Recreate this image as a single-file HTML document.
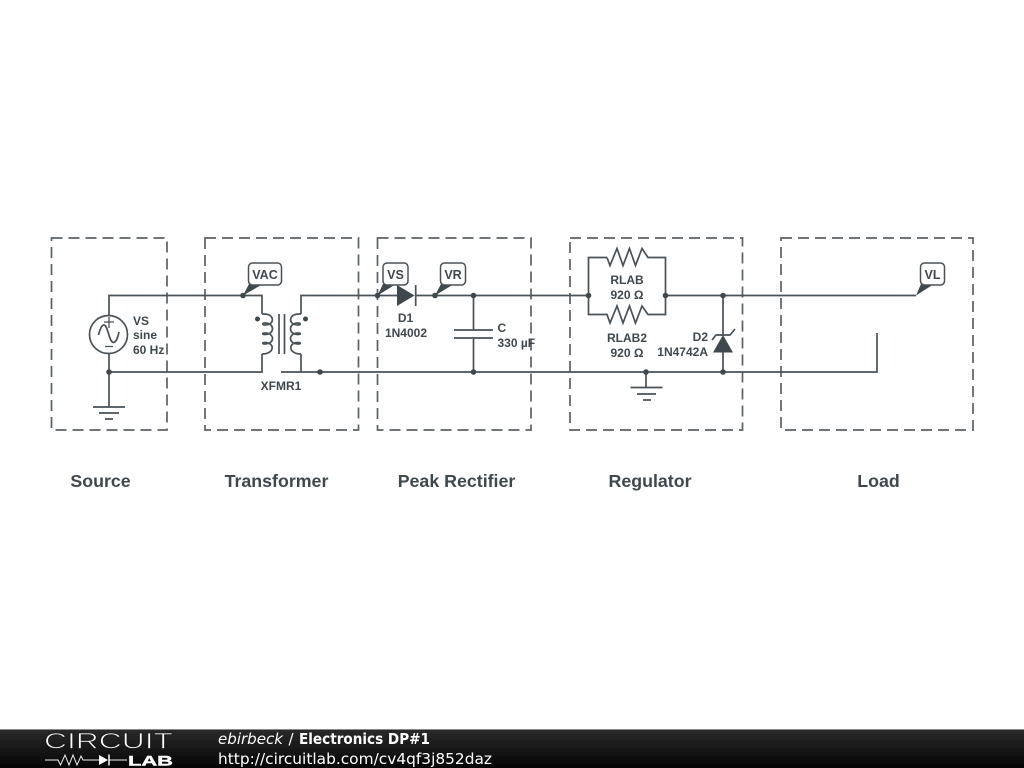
<!DOCTYPE html>
<html><head><meta charset="utf-8"><style>
html,body{margin:0;padding:0;background:#fff;width:1024px;height:768px;overflow:hidden}
svg{display:block}
.l{font:bold 12px "Liberation Sans",sans-serif;fill:#3f484d}
.t{font:bold 17.800px "Liberation Sans",sans-serif;fill:#3f484d}
.p{font:bold 12.500px "Liberation Sans",sans-serif;fill:#3f484d}
.w{fill:none;stroke:#4a5257;stroke-width:1.700}
.b{fill:none;stroke:#5a6166;stroke-width:1.700;stroke-dasharray:11 6}
.f{font:15px "DejaVu Sans",sans-serif;fill:#fff}
</style></head><body>
<svg width="1024" height="768" viewBox="0 0 1024 768" xmlns="http://www.w3.org/2000/svg">
<defs>
<linearGradient id="g" x1="0" y1="0" x2="0" y2="1"><stop offset="0" stop-color="#2a2a2a"/><stop offset="1" stop-color="#050505"/></linearGradient>
</defs>
<rect class="b" x="51.500" y="238" width="115.500" height="192"/>
<rect class="b" x="205" y="238" width="153.500" height="192"/>
<rect class="b" x="377.500" y="238" width="153.500" height="192"/>
<rect class="b" x="570" y="238" width="172.500" height="192"/>
<rect class="b" x="781" y="238" width="192" height="192"/>

<path class="w" d="M109 315V295.500H262V314M262 354V372H109M109 372V354M109 372V407"/>
<path class="w" d="M301 314V295.500H397M415 295.500H588.500M665.500 295.500H916"/>
<path class="w" d="M281 372H877V333M301 354V372"/>
<!-- source -->
<circle class="w" cx="108.500" cy="334.500" r="19"/>
<path class="w" d="M98.500 335C100 329 102 325 104 325C108 325 109 342.500 113.500 342.500C116 342.500 118 337 119 332"/>
<path class="w" style="stroke-width:1.300" d="M109 317V328M104 322H114M105 346.500H113"/>
<!-- grounds -->
<path class="w" d="M93 407H125M99 413H119M105 419H113"/>
<path class="w" d="M646 372V387M630.500 387.500H662.500M637 394H656M643 400H651"/>
<!-- transformer -->
<path class="w" d="M262 314H264C275 314 275 325 265 325C262 325 262 323 265 323C275 323 275 334.500 265 334.500C262 334.500 262 333 265 333C275 333 275 344 265 344C262 344 262 342.500 265 342.500C275 342.500 275 354 262 354"/>
<path class="w" d="M301 314H299C288 314 288 325 298 325C301 325 301 323 298 323C288 323 288 334.500 298 334.500C301 334.500 301 333 298 333C288 333 288 344 298 344C301 344 301 342.500 298 342.500C288 342.500 288 354 301 354"/>
<path class="w" d="M279 314V354M284.500 314V354"/>
<circle cx="257.500" cy="319" r="2.500" fill="#3f484d"/><circle cx="305.500" cy="319" r="2.500" fill="#3f484d"/>
<!-- diode 1 -->
<path d="M397 285L414.500 295.500L397 306Z" fill="#3f484d"/>
<path class="w" d="M415.700 285V306"/>
<!-- cap -->
<path class="w" d="M473.500 295.500V330M473.500 338V372M454 330H493M454 338H493"/>
<!-- resistors -->
<path class="w" d="M607 257.500L610 265.500L617 248.500L623 265.500L629.500 248.500L635.500 265.500L642 248.500L648 257.500H665.500V314.500H648L642 306L635.500 323L629.500 306L623 323L617 306L610 323L607 314.500H588.500V257.500H607"/>
<!-- zener -->
<path class="w" d="M723 295.500V336M723 352V372"/>
<path d="M713 352.500L723 335L733 352.500Z" fill="#3f484d"/>
<path class="w" d="M712 340L716 335H730L735 329"/>
<!-- dots -->
<g fill="#3f484d">
<circle cx="109" cy="372" r="2.800"/><circle cx="243" cy="295.500" r="2.800"/><circle cx="320" cy="372" r="2.800"/>
<circle cx="377.500" cy="295.500" r="2.800"/><circle cx="435" cy="295.500" r="2.800"/><circle cx="473.500" cy="295.500" r="2.800"/>
<circle cx="473.500" cy="372" r="2.800"/><circle cx="588.500" cy="295.500" r="2.800"/><circle cx="665.500" cy="295.500" r="2.800"/>
<circle cx="723" cy="295.500" r="2.800"/><circle cx="723" cy="372" r="2.800"/><circle cx="646" cy="372" r="2.800"/>
</g>
<!-- probes -->
<g fill="#3f484d">
<path d="M243 295.500L249 284H263Z"/><path d="M377.500 295.500L383 284H396Z"/><path d="M435 295.500L441 284H454Z"/><path d="M916 295.500L921 284H934Z"/>
</g>
<g fill="#fff" stroke="#4a5257" stroke-width="1.500">
<rect x="248.500" y="263" width="33" height="22" rx="4"/>
<rect x="383" y="263" width="25" height="22" rx="4"/>
<rect x="440.500" y="263" width="25" height="22" rx="4"/>
<rect x="920.500" y="263" width="24" height="22" rx="4"/>
</g>
<text class="p" x="265" y="279" text-anchor="middle">VAC</text>
<text class="p" x="395.500" y="279" text-anchor="middle">VS</text>
<text class="p" x="453" y="279" text-anchor="middle">VR</text>
<text class="p" x="932.500" y="279" text-anchor="middle">VL</text>
<!-- labels -->
<text class="l" x="133" y="325">VS</text>
<text class="l" x="133" y="339">sine</text>
<text class="l" x="133" y="354">60 Hz</text>
<text class="l" x="281" y="390" text-anchor="middle">XFMR1</text>
<text class="l" x="405.500" y="322" text-anchor="middle">D1</text>
<text class="l" x="406" y="337" text-anchor="middle">1N4002</text>
<text class="l" x="497.500" y="332">C</text>
<text class="l" x="497.500" y="347">330 µF</text>
<text class="l" x="627" y="284" text-anchor="middle">RLAB</text>
<text class="l" x="627" y="299" text-anchor="middle">920 Ω</text>
<text class="l" x="627" y="342" text-anchor="middle">RLAB2</text>
<text class="l" x="627" y="357" text-anchor="middle">920 Ω</text>
<text class="l" x="708" y="341" text-anchor="end">D2</text>
<text class="l" x="708" y="356" text-anchor="end">1N4742A</text>
<text class="t" x="100.500" y="487" text-anchor="middle">Source</text>
<text class="t" x="276.500" y="487" text-anchor="middle">Transformer</text>
<text class="t" x="456.500" y="487" text-anchor="middle">Peak Rectifier</text>
<text class="t" x="650" y="487" text-anchor="middle">Regulator</text>
<text class="t" x="878.500" y="487" text-anchor="middle">Load</text>
<!-- footer -->
<rect x="0" y="729" width="1024" height="39" fill="url(#g)"/>
<rect x="0" y="729" width="1024" height="1" fill="#8a8a8a"/>
<text x="44" y="748.500" textLength="129" lengthAdjust="spacingAndGlyphs" style="font:22px 'Liberation Sans',sans-serif" fill="#fff" stroke="#1c1c1c" stroke-width="0.800">CIRCUIT</text>
<path d="M45 760H58L60.500 765L65 755L69 765L73 755L77 765L81 756L83 760H100M109 760H127" fill="none" stroke="#eee" stroke-width="1"/>
<path d="M99 755L108 760L99 765Z" fill="#fff"/><path d="M109 754.500V765.500" stroke="#fff" stroke-width="1.500"/>
<text x="128" y="765.500" textLength="45" lengthAdjust="spacingAndGlyphs" style="font:bold 14px 'Liberation Sans',sans-serif" fill="#fff" stroke="#fff" stroke-width="0.400">LAB</text>
<text class="f" x="218" y="744" textLength="65" lengthAdjust="spacingAndGlyphs" style="font-style:italic">ebirbeck</text>
<text class="f" x="288.500" y="744">/</text>
<text class="f" x="299" y="744" textLength="131" lengthAdjust="spacingAndGlyphs" style="font-weight:bold">Electronics DP#1</text>
<text class="f" x="218" y="764" textLength="274" lengthAdjust="spacingAndGlyphs">http://circuitlab.com/cv4qf3j852daz</text>
</svg>
</body></html>
